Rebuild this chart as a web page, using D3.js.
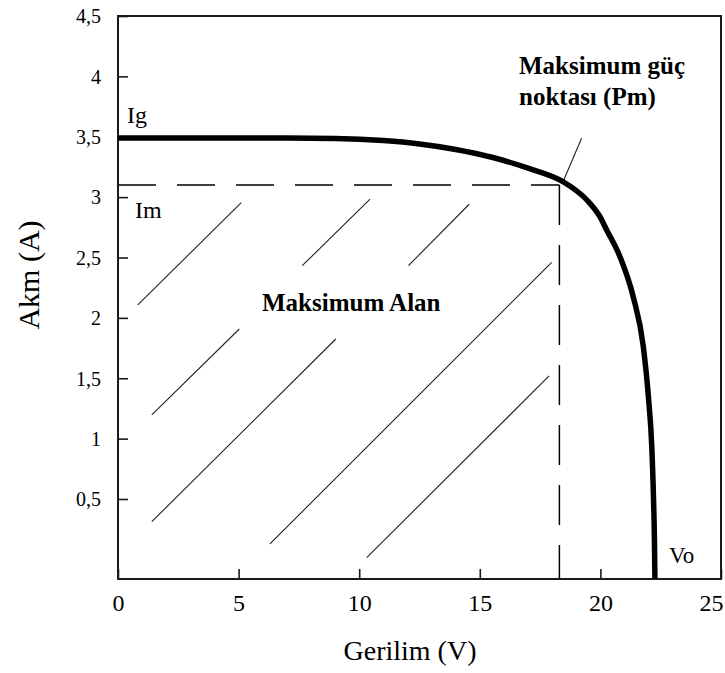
<!DOCTYPE html>
<html><head><meta charset="utf-8">
<script src="https://cdn.jsdelivr.net/npm/d3@7"></script>
<style>
body{margin:0;background:#fff;}
svg{display:block;}
text{font-family:"Liberation Serif","Times New Roman",serif;fill:#000;}
</style>
</head><body>
<svg id="chart" width="725" height="673"></svg>
<script>
// I-V curve (Gerilim V, Akım A)
const voltage = [0, 7, 9, 11, 12.5, 14, 15.5, 17, 18.45, 19.44, 19.98, 20.26, 20.81, 21.36, 21.78, 21.99, 22.13, 22.2, 22.24, 22.26];
const current = [3.49, 3.49, 3.486, 3.468, 3.44, 3.395, 3.33, 3.24, 3.128, 2.976, 2.838, 2.728, 2.507, 2.175, 1.761, 1.347, 0.933, 0.519, 0.244, 0];
// maximum power point
const maxV = 18.3, maxI = 3.1;
// leader line for the annotation
const leaderV = [18.45, 19.22], leaderI = [3.128, 3.487];
// hatch lines of the maximum area (start V, start I, end V, end I)
const hatchV1 = [0.82, 7.64, 12.04, 1.40, 1.40, 6.30, 10.31];
const hatchI1 = [2.107, 2.432, 2.432, 1.196, 0.358, 0.219, 0.133];
const hatchV2 = [5.11, 10.45, 14.56, 5.03, 9.03, 17.98, 17.87];
const hatchI2 = [2.954, 2.984, 2.941, 1.908, 1.825, 2.460, 1.519];
// axes
const xTicks = [0, 5, 10, 15, 20, 25];
const yTicks = [0.5, 1, 1.5, 2, 2.5, 3, 3.5, 4, 4.5];
const yTickLabels = ["0,5", "1", "1,5", "2", "2,5", "3", "3,5", "4", "4,5"];
const xTitle = "Gerilim (V)", yTitle = "Akm (A)";

const svg = d3.select("#chart");
const L = 118, R = 721, T = 16, B = 579;
const x = d3.scaleLinear().domain([0, 25]).range([L, R]);
const y = d3.scaleLinear().domain([0, 0.5, 4.5]).range([B, 499, T]);

// hatch lines
const hatch = hatchV1.map((v, i) => [[v, hatchI1[i]], [hatchV2[i], hatchI2[i]]]);
svg.append("g").selectAll("line").data(hatch).join("line")
  .attr("x1", d => x(d[0][0])).attr("y1", d => y(d[0][1]))
  .attr("x2", d => x(d[1][0])).attr("y2", d => y(d[1][1]))
  .attr("stroke", "#222").attr("stroke-width", 1.1);

// dashed lines to max point
svg.append("line")
  .attr("x1", x(0)).attr("y1", y(maxI)).attr("x2", x(maxV)).attr("y2", y(maxI))
  .attr("stroke", "#000").attr("stroke-width", 1.5).attr("stroke-dasharray", "38,21");
svg.append("line")
  .attr("x1", x(maxV)).attr("y1", y(maxI)).attr("x2", x(maxV)).attr("y2", y(0))
  .attr("stroke", "#000").attr("stroke-width", 1.5).attr("stroke-dasharray", "40,20");

// leader line
svg.append("line")
  .attr("x1", x(leaderV[0])).attr("y1", y(leaderI[0]))
  .attr("x2", x(leaderV[1])).attr("y2", y(leaderI[1]))
  .attr("stroke", "#222").attr("stroke-width", 1.1);

// axes
const xAxis = svg.append("g").attr("transform", `translate(0,${B})`)
  .call(d3.axisBottom(x).tickValues(xTicks).tickSize(-10).tickFormat(d => d));
xAxis.select(".domain").remove();
xAxis.selectAll(".tick line").attr("stroke", "#1a1a1a").attr("stroke-width", 1.6);
xAxis.selectAll(".tick text").attr("y", 32).attr("dy", null)
  .attr("dx", d => d === 25 ? -10 : 0)
  .style("font-size", "24px").style("font-family", "'Liberation Serif',serif").attr("fill", "#000");

const yAxis = svg.append("g").attr("transform", `translate(${L},0)`)
  .call(d3.axisLeft(y).tickValues(yTicks).tickSize(-10).tickPadding(17).tickFormat((d, i) => yTickLabels[i]));
yAxis.select(".domain").remove();
yAxis.selectAll(".tick line").attr("stroke", "#1a1a1a").attr("stroke-width", 1.6);
yAxis.selectAll(".tick text").attr("dy", "0.34em")
  .style("font-size", "20px").style("font-family", "'Liberation Serif',serif").attr("fill", "#000");

// frame
svg.append("rect").attr("x", L).attr("y", T).attr("width", R - L).attr("height", B - T)
  .attr("fill", "none").attr("stroke", "#1a1a1a").attr("stroke-width", 2);

// curve
const pts = voltage.map((v, i) => [v, current[i]]);
svg.append("path").datum(pts)
  .attr("d", d3.line().x(d => x(d[0])).y(d => y(d[1])).curve(d3.curveMonotoneX))
  .attr("fill", "none").attr("stroke", "#000").attr("stroke-width", 5.5);

// labels
svg.append("text").attr("x", 127).attr("y", 123).style("font-size", "24px").text("Ig");
svg.append("text").attr("x", 135).attr("y", 218).style("font-size", "24px").text("Im");
svg.append("text").attr("x", 669).attr("y", 563).style("font-size", "23px").text("Vo");
svg.append("text").attr("x", 519).attr("y", 74).style("font-size", "25px").style("font-weight", "bold").text("Maksimum güç");
svg.append("text").attr("x", 519).attr("y", 105).style("font-size", "25px").style("font-weight", "bold").text("noktası (Pm)");
svg.append("text").attr("x", 262).attr("y", 311).style("font-size", "25px").style("font-weight", "bold").text("Maksimum Alan");

// axis titles
svg.append("text").attr("x", 410).attr("y", 660).attr("text-anchor", "middle")
  .style("font-size", "28px").text(xTitle);
svg.append("text").attr("transform", "translate(39,275) rotate(-90)").attr("text-anchor", "middle")
  .style("font-size", "30px").text(yTitle);
</script>
</body></html>
